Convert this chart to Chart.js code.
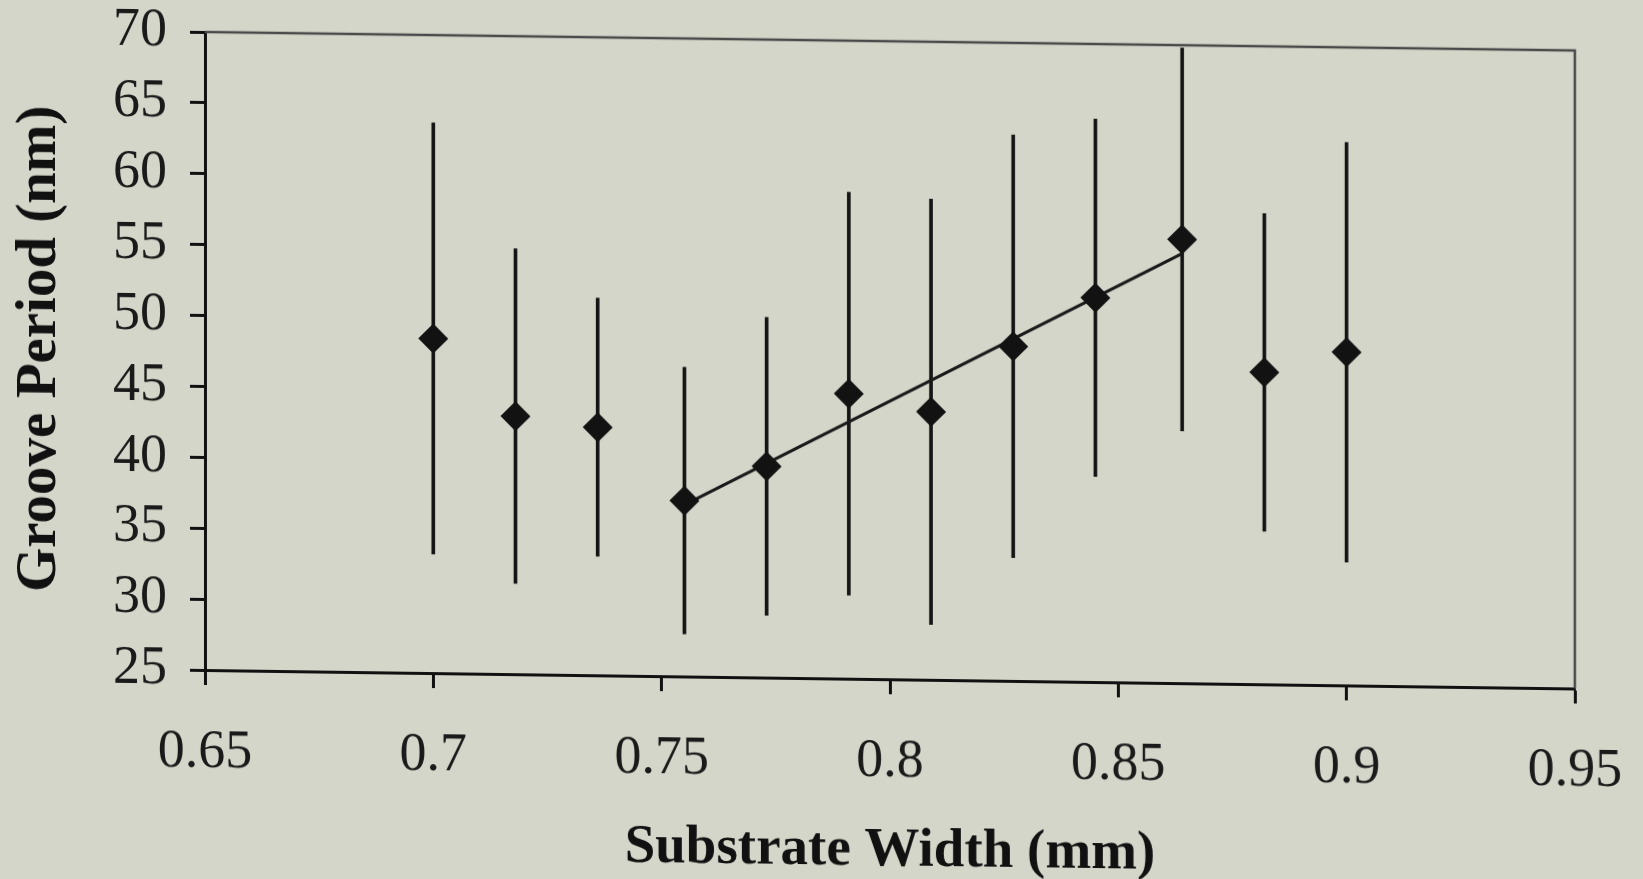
<!DOCTYPE html>
<html>
<head>
<meta charset="utf-8">
<script src="https://cdn.jsdelivr.net/npm/chart.js@4.4.1/dist/chart.umd.min.js"></script>
<style>
  html, body { margin: 0; padding: 0; background: #d4d6c9; overflow: hidden; }
  #wrap { width: 1643px; height: 879px; }
  /* the scanned figure is slightly skewed, so skew the canvas a bit */
  #grooveChart { transform: matrix(1, 0.0135, 0, 1, 0, 0); transform-origin: 205px 32px; }
</style>
</head>
<body>
<div id="wrap"><canvas id="grooveChart" width="1643" height="879"></canvas></div>
<script>
// substrate width (mm) for each measurement
const widths = [0.7, 0.718, 0.736, 0.755, 0.773, 0.791, 0.809, 0.827, 0.845, 0.864, 0.882, 0.9];
// mean groove period (nm)
const periods = [48.6, 43.2, 42.5, 37.4, 39.9, 45.1, 43.9, 48.6, 52.1, 56.3, 47.0, 48.5];
// error bar half length (nm)
const errors = [15.2, 11.8, 9.1, 9.4, 10.5, 14.2, 15.0, 14.9, 12.6, 13.5, 11.2, 14.8];
// fitted line end points
const fitX = [0.755, 0.864];
const fitY = [37.1, 55.3];

const xTicks = [0.65, 0.7, 0.75, 0.8, 0.85, 0.9, 0.95];
const yTicks = [25, 30, 35, 40, 45, 50, 55, 60, 65, 70];

const serif = "'Liberation Serif', 'Times New Roman', serif";

// top and right frame lines (thin and grey like the original)
const frame = {
    id: 'frame',
    afterDraw(chart) {
        const a = chart.chartArea;
        const c = chart.ctx;
        c.save();
        c.strokeStyle = '#4a4a4a';
        c.lineWidth = 2.5;
        c.beginPath();
        c.moveTo(a.left, a.top);
        c.lineTo(a.right, a.top);
        c.lineTo(a.right, a.bottom);
        c.stroke();
        c.restore();
    }
};

const ctx = document.getElementById('grooveChart').getContext('2d');
const chart = new Chart(ctx, {
    type: 'scatter',
    data: {
        datasets: [
            {
                type: 'scatter',
                label: 'Groove period',
                data: widths.map((w, i) => ({ x: w, y: periods[i] })),
                pointStyle: 'rectRot',
                pointRadius: 15,
                pointBackgroundColor: '#121212',
                pointBorderWidth: 0,
                order: 0
            },
            {
                type: 'line',
                label: 'Fit',
                data: fitX.map((x, i) => ({ x: x, y: fitY[i] })),
                borderColor: '#1a1a1a',
                borderWidth: 3,
                pointRadius: 0,
                fill: false,
                order: 1
            },
            {
                type: 'bar',
                label: 'Error',
                data: widths.map((w, i) => ({ x: w, y: [periods[i] - errors[i], periods[i] + errors[i]] })),
                backgroundColor: '#141414',
                barThickness: 3,
                order: 2
            }
        ]
    },
    options: {
        animation: false,
        responsive: false,
        layout: { padding: { top: 32, right: 68, left: 0, bottom: 0 } },
        plugins: {
            legend: { display: false },
            tooltip: { enabled: false }
        },
        scales: {
            x: {
                type: 'linear',
                min: 0.65,
                max: 0.95,
                offset: false,
                afterFit: s => { s.height = 209; s.paddingLeft = 0; s.paddingRight = 0; },
                afterBuildTicks: s => { s.ticks = xTicks.map(v => ({ value: v })); },
                grid: { offset: false, drawOnChartArea: false, drawTicks: true, tickLength: 15, tickColor: '#111', tickWidth: 3 },
                border: { display: true, color: '#111', width: 3 },
                ticks: {
                    color: '#1a1a1a',
                    padding: 35,
                    maxRotation: 0,
                    font: { family: serif, size: 54 },
                    callback: v => String(v)
                },
                title: {
                    display: true,
                    text: 'Substrate Width (mm)',
                    color: '#111',
                    font: { family: serif, size: 55, weight: 'bold' },
                    padding: { top: 0, bottom: 4 }
                }
            },
            y: {
                type: 'linear',
                min: 25,
                max: 70,
                afterFit: s => { s.width = 205; s.paddingTop = 0; s.paddingBottom = 0; },
                afterBuildTicks: s => { s.ticks = yTicks.map(v => ({ value: v })); },
                grid: { drawOnChartArea: false, drawTicks: true, tickLength: 15, tickColor: '#111', tickWidth: 3 },
                border: { display: true, color: '#111', width: 3 },
                ticks: {
                    color: '#1a1a1a',
                    padding: 23,
                    font: { family: serif, size: 54 },
                    callback: v => String(v)
                },
                title: {
                    display: true,
                    text: 'Groove Period (nm)',
                    color: '#111',
                    font: { family: serif, size: 57, weight: 'bold' },
                    padding: { top: 6, bottom: 0 }
                }
            }
        }
    },
    plugins: [frame]
});
</script>
</body>
</html>
